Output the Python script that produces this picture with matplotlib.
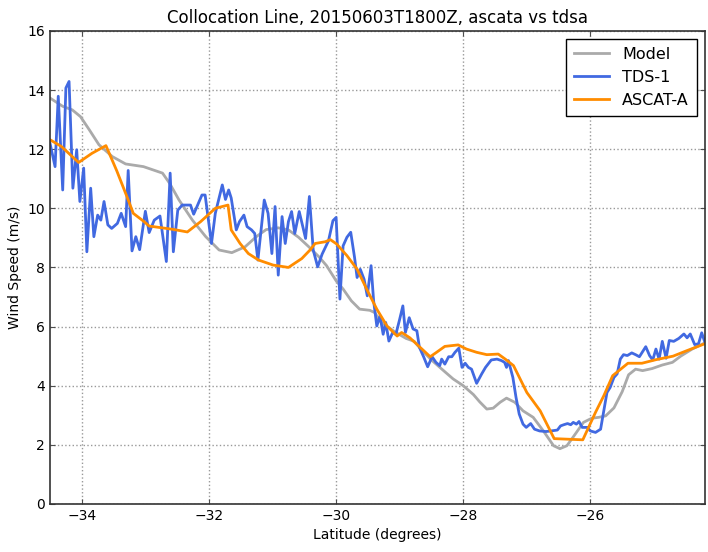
import matplotlib
matplotlib.use('Agg')
import matplotlib.pyplot as plt

# model wind along the collocation line
model_lat = [-34.50, -34.30, -34.15, -34.02, -33.88, -33.73, -33.52, -33.31, -33.03, -32.73,
             -32.62, -32.47, -32.26, -32.05, -31.84, -31.64, -31.43, -31.25, -31.10, -30.91,
             -30.75, -30.59, -30.43, -30.27, -30.15, -30.00, -29.89, -29.76, -29.63, -29.47,
             -29.39, -29.31, -29.21, -29.06, -28.90, -28.77, -28.67, -28.49, -28.31, -28.16,
             -28.00, -27.84, -27.74, -27.63, -27.53, -27.42, -27.32, -27.19, -27.06, -26.90,
             -26.74, -26.58, -26.48, -26.37, -26.24, -26.11, -25.98, -25.87, -25.76, -25.63,
             -25.50, -25.40, -25.29, -25.18, -25.03, -24.87, -24.71, -24.58, -24.40, -24.20]
model_ws = [13.73, 13.45, 13.33, 13.10, 12.65, 12.15, 11.75, 11.50, 11.41, 11.19,
            10.85, 10.28, 9.60, 9.04, 8.59, 8.50, 8.70, 9.05, 9.28, 9.34,
            9.27, 9.02, 8.70, 8.36, 8.06, 7.55, 7.27, 6.87, 6.59, 6.55,
            6.47, 6.19, 6.02, 5.80, 5.60, 5.50, 5.24, 4.85, 4.51, 4.23,
            4.00, 3.70, 3.45, 3.21, 3.24, 3.44, 3.58, 3.44, 3.15, 2.93,
            2.47, 1.97, 1.87, 1.97, 2.36, 2.76, 2.90, 2.93, 2.98, 3.25,
            3.80, 4.37, 4.56, 4.51, 4.58, 4.70, 4.79, 5.00, 5.24, 5.45]

# TDS-1 retrievals
tds_lat = [-34.50, -34.42, -34.37, -34.30, -34.25, -34.20, -34.14, -34.08, -34.03, -33.97,
           -33.92, -33.86, -33.81, -33.75, -33.70, -33.65, -33.59, -33.53, -33.44, -33.38,
           -33.31, -33.27, -33.21, -33.15, -33.09, -33.00, -32.94, -32.86, -32.77, -32.67,
           -32.61, -32.56, -32.49, -32.42, -32.29, -32.24, -32.11, -32.06, -31.96, -31.90,
           -31.79, -31.74, -31.69, -31.65, -31.57, -31.52, -31.45, -31.40, -31.33, -31.28,
           -31.23, -31.13, -31.07, -31.01, -30.96, -30.91, -30.85, -30.80, -30.75, -30.70,
           -30.65, -30.58, -30.53, -30.48, -30.42, -30.36, -30.29, -30.22, -30.12, -30.05,
           -30.00, -29.94, -29.89, -29.83, -29.77, -29.71, -29.67, -29.62, -29.56, -29.51,
           -29.45, -29.41, -29.36, -29.31, -29.26, -29.22, -29.17, -29.11, -29.06, -29.00,
           -28.95, -28.91, -28.85, -28.79, -28.73, -28.69, -28.62, -28.56, -28.49, -28.43,
           -28.37, -28.34, -28.29, -28.23, -28.18, -28.13, -28.07, -28.02, -27.97, -27.92,
           -27.87, -27.79, -27.71, -27.65, -27.56, -27.47, -27.40, -27.35, -27.32, -27.29,
           -27.22, -27.17, -27.12, -27.06, -27.01, -26.94, -26.88, -26.80, -26.70, -26.62,
           -26.52, -26.47, -26.42, -26.36, -26.31, -26.27, -26.22, -26.18, -26.13, -26.05,
           -26.00, -25.92, -25.84, -25.79, -25.74, -25.69, -25.63, -25.58, -25.53, -25.48,
           -25.42, -25.35, -25.29, -25.23, -25.13, -25.07, -25.02, -24.97, -24.92, -24.87,
           -24.81, -24.76, -24.69, -24.61, -24.53, -24.48, -24.43, -24.36, -24.30, -24.25,
           -24.20]
tds_ws = [12.20, 11.41, 13.79, 10.62, 14.07, 14.29, 10.68, 11.98, 10.23, 11.36,
          8.53, 10.68, 9.04, 9.77, 9.60, 10.23, 9.44, 9.32, 9.49, 9.83,
          9.38, 11.28, 8.56, 9.04, 8.60, 9.90, 9.18, 9.60, 9.74, 8.20,
          11.19, 8.53, 9.94, 10.11, 10.11, 9.80, 10.45, 10.45, 8.81, 9.83,
          10.79, 10.30, 10.62, 10.35, 9.27, 9.55, 9.77, 9.38, 9.27, 9.15,
          8.25, 10.28, 9.83, 8.47, 10.06, 7.74, 9.72, 8.81, 9.55, 9.89,
          9.15, 9.89, 9.44, 8.98, 10.40, 8.59, 8.02, 8.45, 8.90, 9.58,
          9.69, 6.93, 8.73, 9.02, 9.19, 8.34, 7.66, 7.94, 7.60, 7.04,
          8.06, 6.87, 6.02, 6.36, 5.74, 6.14, 5.51, 5.80, 5.74, 6.25,
          6.70, 5.80, 6.30, 5.92, 5.86, 5.30, 4.96, 4.64, 4.98, 4.79,
          4.68, 4.90, 4.73, 4.98, 4.98, 5.13, 5.27, 4.62, 4.76, 4.62,
          4.56, 4.08, 4.40, 4.62, 4.87, 4.90, 4.85, 4.79, 4.62, 4.85,
          4.28, 3.60, 3.04, 2.70, 2.59, 2.72, 2.53, 2.47, 2.45, 2.47,
          2.50, 2.64, 2.68, 2.72, 2.68, 2.76, 2.70, 2.79, 2.59, 2.59,
          2.47, 2.42, 2.53, 3.15, 3.77, 3.94, 4.28, 4.40, 4.90, 5.05,
          5.02, 5.11, 5.05, 4.98, 5.32, 5.02, 4.87, 5.24, 4.90, 5.50,
          4.93, 5.53, 5.50, 5.60, 5.75, 5.62, 5.75, 5.39, 5.42, 5.79,
          5.47]

# ASCAT-A collocated winds
ascat_lat = [-34.50, -34.32, -34.05, -33.84, -33.62, -33.45, -33.28, -33.19, -33.02, -32.94,
             -32.57, -32.34, -32.13, -31.90, -31.70, -31.65, -31.51, -31.38, -31.22, -30.99,
             -30.75, -30.54, -30.41, -30.33, -30.17, -30.09, -29.99, -29.83, -29.67, -29.52,
             -29.36, -29.20, -29.04, -28.97, -28.84, -28.68, -28.52, -28.42, -28.29, -28.08,
             -27.95, -27.79, -27.63, -27.45, -27.34, -27.21, -27.00, -26.79, -26.57, -26.12,
             -25.92, -25.79, -25.65, -25.41, -25.19, -24.97, -24.70, -24.49, -24.20]
ascat_ws = [12.32, 12.09, 11.55, 11.86, 12.12, 11.27, 10.34, 9.83, 9.55, 9.40,
            9.29, 9.20, 9.55, 10.00, 10.11, 9.27, 8.81, 8.47, 8.25, 8.08,
            8.00, 8.30, 8.59, 8.81, 8.87, 8.94, 8.79, 8.40, 7.94, 7.27,
            6.59, 6.02, 5.68, 5.80, 5.62, 5.30, 4.98, 5.13, 5.33, 5.38,
            5.24, 5.13, 5.05, 5.07, 4.90, 4.68, 3.77, 3.15, 2.21, 2.17,
            3.10, 3.66, 4.34, 4.76, 4.76, 4.88, 5.00, 5.18, 5.42]


def main():
    fig = plt.figure(figsize=(7.08, 5.52), dpi=100)
    ax = fig.add_axes([0.0706, 0.087, 0.925, 0.857])

    ax.plot(model_lat, model_ws, color='#aaaaaa', lw=2, label='Model')
    ax.plot(tds_lat, tds_ws, color='#4169e1', lw=2, label='TDS-1')
    ax.plot(ascat_lat, ascat_ws, color='#ff8c00', lw=2, label='ASCAT-A')

    ax.set_xlim(-34.5, -24.2)
    ax.set_ylim(0, 16)
    ax.set_xticks([-34, -32, -30, -28, -26])
    ax.set_yticks(range(0, 17, 2))
    ax.grid(True, color='0.6', linestyle=':', linewidth=1)
    ax.tick_params(direction='in', top=True, right=True, labelsize=10, color='0.3')
    for s in ax.spines.values():
        s.set_linewidth(1.2)
        s.set_color('0.2')

    ax.set_title('Collocation Line, 20150603T1800Z, ascata vs tdsa', fontsize=12)
    ax.set_xlabel('Latitude (degrees)', fontsize=10)
    ax.set_ylabel('Wind Speed (m/s)', fontsize=10)

    leg = ax.legend(loc='upper right', fontsize=11.5, fancybox=False, framealpha=1,
                    edgecolor='black', handlelength=2.2, borderpad=0.5)
    leg.get_frame().set_linewidth(1)

    fig.savefig('out.png', dpi=100)


if __name__ == '__main__':
    main()
